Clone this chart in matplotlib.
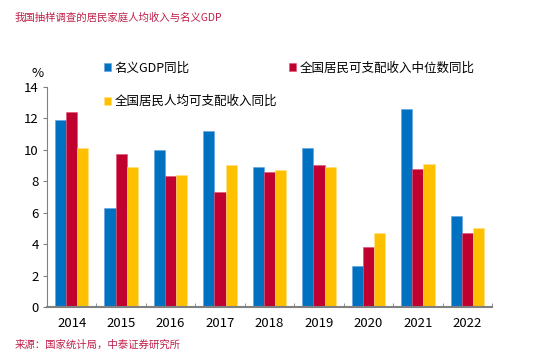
import numpy as np
import matplotlib
matplotlib.use("Agg")
from matplotlib import pyplot as plt

plt.rcParams['font.family'] = ['Noto Sans CJK SC', 'DejaVu Sans']

years = ["2014", "2015", "2016", "2017", "2018", "2019", "2020", "2021", "2022"]
gdp = [11.9, 6.3, 10.0, 11.2, 8.9, 10.1, 2.6, 12.6, 5.8]
median_income = [12.4, 9.7, 8.3, 7.3, 8.6, 9.0, 3.8, 8.8, 4.7]
per_capita_income = [10.1, 8.9, 8.4, 9.0, 8.7, 8.9, 4.7, 9.1, 5.0]

names = ["名义GDP同比", "全国居民可支配收入中位数同比", "全国居民人均可支配收入同比"]
colors = ["#0070C0", "#C0002F", "#FFC000"]

fig = plt.figure(figsize=(5.5, 3.59), dpi=100)
ax = fig.add_axes([0.0855, 0.145, 0.809, 0.613])

x = np.arange(len(years))
w = 0.225
b1 = ax.bar(x - w, gdp, w, color=colors[0], edgecolor="#5fa0e0", linewidth=0.4)
b2 = ax.bar(x, median_income, w, color=colors[1], edgecolor="#e05070", linewidth=0.4)
b3 = ax.bar(x + w, per_capita_income, w, color=colors[2], edgecolor="#ffe080", linewidth=0.4)

ax.set_xlim(-0.5, len(years) - 0.5)
ax.set_ylim(0, 14)
ax.set_yticks(range(0, 15, 2))
ax.set_xticks(x)
ax.set_xticklabels(years)
ax.set_xticks(np.arange(-0.5, len(years), 1), minor=True)
ax.tick_params(axis="x", which="major", length=0, labelsize=9.5, pad=7)
ax.tick_params(axis="x", which="minor", length=3, direction="in", color="#808080")
ax.tick_params(axis="y", length=3, labelsize=9.5, color="#808080", pad=3)

for s in ["top", "right"]:
    ax.spines[s].set_visible(False)
ax.spines["left"].set_color("#808080")
ax.spines["bottom"].set_color("#808080")
ax.spines["bottom"].set_linewidth(1.5)

fig.text(0.058, 0.785, "%", fontsize=9.5)

# legend: two columns, column-major order
fig.legend([b1, b3, b2], [names[0], names[2], names[1]], ncol=2,
           loc="upper left", bbox_to_anchor=(0.168, 0.86), frameon=False,
           fontsize=9, handlelength=0.6, handleheight=0.6, handletextpad=0.3,
           columnspacing=0.9, labelspacing=1.65)

fig.text(0.027, 0.943, "我国抽样调查的居民家庭人均收入与名义GDP", fontsize=7.5, color="#C0204A")
fig.text(0.027, 0.03, "来源：国家统计局，中泰证券研究所", fontsize=7.5, color="#C0204A")

fig.savefig("out.png", dpi=100)
